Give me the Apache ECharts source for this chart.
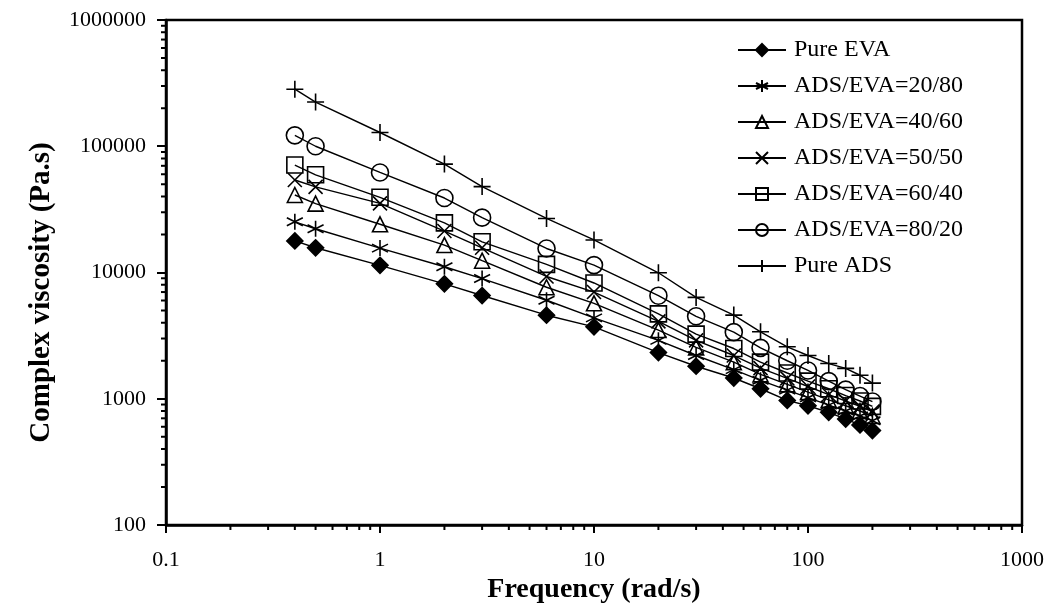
<!DOCTYPE html>
<html>
<head>
<meta charset="utf-8">
<script src="https://cdn.jsdelivr.net/npm/echarts@6/dist/echarts.min.js"></script>
<style>
  html, body { margin: 0; padding: 0; background: #fff; }
  #main { width: 1057px; height: 612px; }
</style>
</head>
<body>
<div id="main"></div>
<script>
// frequency (rad/s)
var freq = [0.4, 0.5, 1, 2, 3, 6, 10, 20, 30, 45, 60, 80, 100, 125, 150, 175, 200];

// complex viscosity (Pa.s)
var pureEVA = [17800, 15700, 11400, 8130, 6570, 4590, 3710, 2320, 1810, 1460, 1200, 970, 880, 780, 690, 620, 560];
var ads2080 = [25200, 22200, 15600, 11100, 8950, 6030, 4370, 2900, 2200, 1700, 1400, 1170, 1020, 890, 800, 730, 670];
var ads4060 = [41100, 35100, 24100, 16500, 12400, 7640, 5700, 3500, 2550, 1950, 1560, 1300, 1130, 980, 880, 800, 730];
var ads5050 = [54000, 47700, 35300, 21300, 15700, 9300, 7000, 4100, 2900, 2200, 1750, 1450, 1250, 1080, 960, 870, 790];
var ads6040 = [71000, 59400, 39400, 24700, 17500, 11600, 8260, 4700, 3250, 2500, 1950, 1600, 1380, 1200, 1060, 960, 870];
var ads8020 = [122000, 100000, 62000, 38900, 27200, 15500, 11450, 6550, 4500, 3370, 2530, 2000, 1675, 1380, 1180, 1050, 950];
var pureADS = [283000, 224000, 128500, 72200, 47900, 26800, 18100, 9950, 6350, 4600, 3390, 2580, 2200, 1900, 1740, 1535, 1330];

var seriesNames = ['Pure EVA', 'ADS/EVA=20/80', 'ADS/EVA=40/60', 'ADS/EVA=50/50', 'ADS/EVA=60/40', 'ADS/EVA=80/20', 'Pure ADS'];

var FONT = '"Liberation Serif", "DejaVu Serif", serif';

var SYM = {
  asterisk: 'path://M5,0L5,10M0.7,2.5L9.3,7.5M9.3,2.5L0.7,7.5',
  cross: 'path://M0,0L10,10M10,0L0,10',
  plus: 'path://M5,0L5,10M0,5L10,5',
  triangle: 'path://M5,0L10,10L0,10Z',
  square: 'path://M0,0L10,0L10,10L0,10Z'
};

function mk(name, values, symbol, size, filled) {
  return {
    name: name,
    type: 'line',
    data: freq.map(function (f, i) { return [f, values[i]]; }),
    symbol: symbol,
    symbolSize: size,
    showAllSymbol: true,
    lineStyle: { color: '#000', width: 1.4 },
    itemStyle: {
      color: filled ? '#000' : 'rgba(0,0,0,0)',
      borderColor: '#000',
      borderWidth: 1.6
    },
    emphasis: { disabled: true },
    animation: false,
    z: 3
  };
}

var chart = echarts.init(document.getElementById('main'), null, { renderer: 'canvas' });

chart.setOption({
  backgroundColor: '#ffffff',
  animation: false,
  grid: {
    left: 166, right: 35, top: 20, bottom: 87,
    show: true, borderColor: '#000', borderWidth: 2.5, backgroundColor: 'transparent'
  },
  legend: {
    orient: 'vertical',
    left: 737,
    top: 38,
    padding: 0,
    itemWidth: 48,
    itemHeight: 15,
    itemGap: 12,
    data: seriesNames,
    textStyle: { fontFamily: FONT, fontSize: 24, color: '#000', lineHeight: 24, padding: [0, 0, 0, 3] }
  },
  xAxis: {
    type: 'log',
    logBase: 10,
    min: 0.1,
    max: 1000,
    name: 'Frequency (rad/s)',
    nameLocation: 'middle',
    nameGap: 51,
    nameTextStyle: { fontFamily: FONT, fontSize: 28, fontWeight: 'bold', color: '#000' },
    axisLine: { lineStyle: { color: '#000', width: 2.5 } },
    axisTick: { length: 8, lineStyle: { color: '#000', width: 2 } },
    axisLabel: {
      margin: 24, fontFamily: FONT, fontSize: 22, color: '#000',
      formatter: function (v) { return String(+v.toPrecision(6)); }
    },
    splitLine: { show: false }
  },
  yAxis: {
    type: 'log',
    logBase: 10,
    min: 100,
    max: 1000000,
    name: 'Complex viscosity (Pa.s)',
    nameLocation: 'middle',
    nameGap: 110,
    nameTextStyle: { fontFamily: FONT, fontSize: 29, fontWeight: 'bold', color: '#000', padding: [0, 40, 0, 0] },
    axisLine: { lineStyle: { color: '#000', width: 2.5 } },
    axisTick: { length: 9, lineStyle: { color: '#000', width: 2 } },
    axisLabel: {
      margin: 20, fontFamily: FONT, fontSize: 22, color: '#000',
      formatter: function (v) { return String(+v.toPrecision(7)); }
    },
    splitLine: { show: false }
  },
  series: [
    mk(seriesNames[0], pureEVA, 'diamond', 16, true),
    mk(seriesNames[1], ads2080, SYM.asterisk, 16, false),
    mk(seriesNames[2], ads4060, SYM.triangle, 15, false),
    mk(seriesNames[3], ads5050, SYM.cross, 14, false),
    mk(seriesNames[4], ads6040, SYM.square, 16, false),
    mk(seriesNames[5], ads8020, 'circle', 17, false),
    mk(seriesNames[6], pureADS, SYM.plus, 17, false)
  ]
});

// minor ticks at 2..9 x 10^k, placed through the axes' own scales
var minor = [];
var yBottom = chart.convertToPixel({ yAxisIndex: 0 }, 100);
var xLeft = chart.convertToPixel({ xAxisIndex: 0 }, 0.1);
for (var d = -1; d < 3; d++) {
  for (var m = 2; m <= 9; m++) {
    var px = chart.convertToPixel({ xAxisIndex: 0 }, m * Math.pow(10, d));
    minor.push({ type: 'line', shape: { x1: px, y1: yBottom, x2: px, y2: yBottom + 5 }, style: { stroke: '#000', lineWidth: 2 }, silent: true });
  }
}
for (var e = 2; e < 6; e++) {
  for (var n = 2; n <= 9; n++) {
    var py = chart.convertToPixel({ yAxisIndex: 0 }, n * Math.pow(10, e));
    minor.push({ type: 'line', shape: { x1: xLeft - 5, y1: py, x2: xLeft, y2: py }, style: { stroke: '#000', lineWidth: 2 }, silent: true });
  }
}
chart.setOption({ graphic: minor });
</script>
</body>
</html>
